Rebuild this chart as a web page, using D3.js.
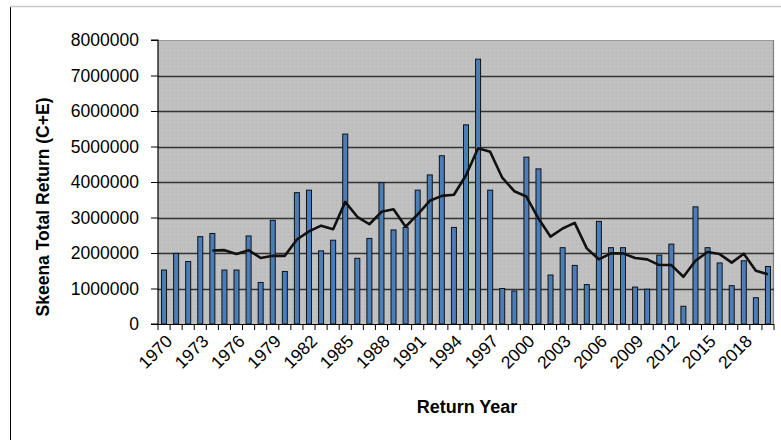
<!DOCTYPE html>
<html>
<head>
<meta charset="utf-8">
<script src="https://cdn.jsdelivr.net/npm/d3@7"></script>
<style>
  html, body { margin: 0; padding: 0; background: #fff; }
  svg { display: block; }
  text { font-family: "Liberation Sans", Arial, sans-serif; }
</style>
</head>
<body>
<svg id="chart" width="781" height="440"></svg>
<script>
// ---- data ----
const years = d3.range(1970, 2021);
const totalReturn = [
  1520000, 1990000, 1760000, 2460000, 2550000, 1520000, 1520000, 2480000, 1170000, 2920000,
  1480000, 3700000, 3770000, 2060000, 2360000, 5350000, 1850000, 2410000, 3980000, 2650000,
  2720000, 3770000, 4200000, 4740000, 2720000, 5610000, 7460000, 3770000, 1000000, 930000,
  4700000, 4370000, 1380000, 2150000, 1650000, 1110000, 2890000, 2150000, 2150000, 1040000,
  980000, 1940000, 2250000, 500000, 3300000, 2150000, 1720000, 1080000, 1780000, 740000,
  1620000
];
// running-average line, starts at 1974
const avgYears = d3.range(1974, 2021);
const avgValues = [
  2070000, 2080000, 1970000, 2080000, 1860000, 1920000, 1920000, 2380000, 2610000, 2770000,
  2670000, 3440000, 3020000, 2810000, 3160000, 3230000, 2740000, 3090000, 3470000, 3610000,
  3640000, 4190000, 4950000, 4850000, 4120000, 3740000, 3590000, 2970000, 2460000, 2690000,
  2850000, 2130000, 1820000, 1990000, 1990000, 1860000, 1820000, 1660000, 1660000, 1330000,
  1780000, 2030000, 1970000, 1730000, 1980000, 1500000, 1400000
];
const yTicks = [0, 1000000, 2000000, 3000000, 4000000, 5000000, 6000000, 7000000, 8000000];
const xLabelYears = d3.range(1970, 2020, 3);
const yTitle = "Skeena Total Return (C+E)";
const xTitle = "Return Year";

// ---- layout ----
const svg = d3.select("#chart");
const L = 158, R = 774, T = 40, B = 324;

// chart frame
svg.append("line").attr("x1", 10.5).attr("x2", 10.5).attr("y1", 6).attr("y2", 440)
  .attr("stroke", "#000").attr("stroke-width", 1);
svg.append("line").attr("x1", 10).attr("x2", 781).attr("y1", 6.5).attr("y2", 6.5)
  .attr("stroke", "#c8c8c8").attr("stroke-width", 1.5);

const x = d3.scaleBand().domain(years).range([L, R]).padding(0);
const y = d3.scaleLinear().domain([0, 8000000]).range([B, T]);

// plot background with subtle texture
const defs = svg.append("defs");
const pat = defs.append("pattern").attr("id", "tex").attr("width", 4).attr("height", 4)
  .attr("patternUnits", "userSpaceOnUse");
pat.append("rect").attr("width", 4).attr("height", 4).attr("fill", "#c0c0c0");
pat.append("rect").attr("x", 0).attr("y", 0).attr("width", 1).attr("height", 1).attr("fill", "#b8b8b8");
pat.append("rect").attr("x", 2).attr("y", 2).attr("width", 1).attr("height", 1).attr("fill", "#c6c6c6");

svg.append("rect").attr("x", L).attr("y", T).attr("width", R - L).attr("height", B - T)
  .attr("fill", "url(#tex)");
// plot border top/right
svg.append("line").attr("x1", L).attr("x2", R).attr("y1", T + 0.5).attr("y2", T + 0.5)
  .attr("stroke", "#9a9a9a").attr("stroke-width", 1);
svg.append("line").attr("x1", R - 0.5).attr("x2", R - 0.5).attr("y1", T).attr("y2", B)
  .attr("stroke", "#808080").attr("stroke-width", 1.2);

// gridlines
svg.append("g").selectAll("line").data(yTicks.filter(d => d > 0 && d < 8000000)).join("line")
  .attr("x1", L).attr("x2", R)
  .attr("y1", d => Math.round(y(d)) + 0.5).attr("y2", d => Math.round(y(d)) + 0.5)
  .attr("stroke", "#333").attr("stroke-width", 1.3);

// bars
const bw = 5;
svg.append("g").selectAll("rect").data(years).join("rect")
  .attr("x", (d) => x(d) + x.bandwidth() / 2 - bw / 2)
  .attr("y", (d, i) => y(totalReturn[i]))
  .attr("width", bw)
  .attr("height", (d, i) => B - y(totalReturn[i]))
  .attr("fill", "#4a7ebb")
  .attr("stroke", "#111")
  .attr("stroke-width", 1);

// line
const line = d3.line()
  .x((d, i) => x(avgYears[i]) + x.bandwidth() / 2)
  .y(d => y(d));
svg.append("path").datum(avgValues).attr("d", line)
  .attr("fill", "none").attr("stroke", "#111").attr("stroke-width", 2.6)
  .attr("stroke-linejoin", "round");

// y axis
const yAxis = svg.append("g").attr("transform", `translate(${L},0)`)
  .call(d3.axisLeft(y).tickValues(yTicks).tickFormat(d3.format("d")).tickSize(7).tickPadding(12));
yAxis.select(".domain").attr("stroke", "#000").attr("stroke-width", 1.2).attr("d", `M-7,${T}H0V${B}H-7`);
yAxis.selectAll(".tick line").attr("stroke", "#000");
yAxis.selectAll(".tick text").attr("font-size", "17.5px").attr("fill", "#000")
  .attr("font-family", "'Liberation Sans', Arial, sans-serif");

// x axis (ticks at category boundaries)
const xg = svg.append("g");
xg.append("line").attr("x1", L).attr("x2", R).attr("y1", B + 0.5).attr("y2", B + 0.5)
  .attr("stroke", "#000").attr("stroke-width", 1.2);
xg.selectAll("line.tk").data(years.concat([null])).join("line").attr("class", "tk")
  .attr("x1", d => d === null ? R : x(d)).attr("x2", d => d === null ? R : x(d))
  .attr("y1", B).attr("y2", B + 6)
  .attr("stroke", "#000").attr("stroke-width", 1);
xg.selectAll("text").data(xLabelYears).join("text")
  .attr("transform", d => `translate(${x(d) + x.bandwidth() / 2 + 5},${B + 14}) rotate(-45)`)
  .attr("text-anchor", "end")
  .attr("dy", "0.35em")
  .attr("font-size", "17.5px")
  .attr("fill", "#000")
  .text(d => d);

// axis titles
svg.append("text")
  .attr("transform", `translate(49,${207}) rotate(-90)`)
  .attr("text-anchor", "middle")
  .attr("font-size", "17.5px").attr("font-weight", "bold")
  .text(yTitle);
svg.append("text")
  .attr("x", 467).attr("y", 413)
  .attr("text-anchor", "middle")
  .attr("font-size", "18px").attr("font-weight", "bold")
  .text(xTitle);
</script>
</body>
</html>
